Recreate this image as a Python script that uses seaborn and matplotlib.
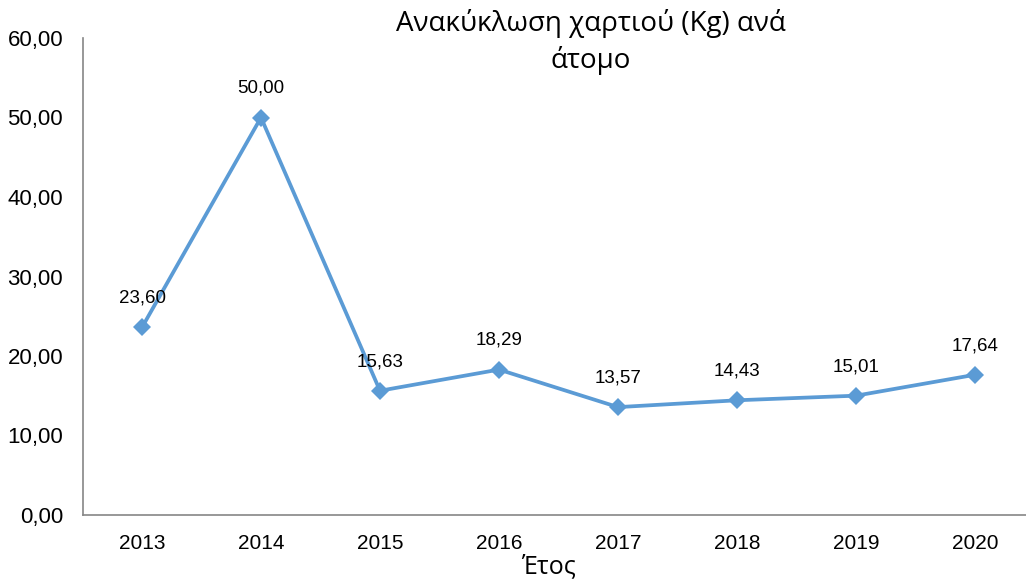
import matplotlib
matplotlib.use("Agg")
import matplotlib.pyplot as plt
import seaborn as sns
import pandas as pd
from matplotlib.ticker import FuncFormatter, FixedLocator

sns.set_style("white")
plt.rcParams['font.family'] = ['Liberation Sans', 'DejaVu Sans']
plt.rcParams['text.color'] = 'black'
plt.rcParams['xtick.color'] = 'black'
plt.rcParams['ytick.color'] = 'black'

# Δεδομένα
years = ["2013", "2014", "2015", "2016", "2017", "2018", "2019", "2020"]
kg_per_person = [23.60, 50.00, 15.63, 18.29, 13.57, 14.43, 15.01, 17.64]

title_text = "Ανακύκλωση χαρτιού (Kg) ανά\nάτομο"
xlabel_text = "Έτος"

df = pd.DataFrame({"year": years, "kg": kg_per_person})

line_color = "#5B9BD5"
axis_color = "#868686"

fig = plt.figure(figsize=(10.26, 5.8), dpi=100)
ax = fig.add_axes([82.5 / 1026, 65 / 580, 952 / 1026, 477 / 580])

sns.lineplot(data=df, x="year", y="kg", ax=ax, color=line_color, linewidth=2.7,
             marker="D", markersize=9.5, markeredgewidth=0, sort=False)

ax.set_xlim(-0.5, len(years) - 0.5)
ax.set_ylim(0, 60)
ax.set_yticks(range(0, 61, 10))
ax.yaxis.set_major_formatter(FuncFormatter(lambda v, p: f"{v:.2f}".replace(".", ",")))

# ετικέτες στο κέντρο, γραμμές ανάμεσα
ax.set_xticks(range(len(years)))
ax.set_xticklabels(years)
ax.xaxis.set_minor_locator(FixedLocator([i - 0.5 for i in range(len(years) + 1)]))
ax.tick_params(axis="x", which="major", length=0, pad=14, labelsize=15, labelcolor="black")
ax.tick_params(axis="x", which="minor", length=5, width=1, color=axis_color, direction="out")
ax.tick_params(axis="y", which="major", length=5, width=1, color=axis_color, direction="out",
               labelsize=16, pad=9, labelcolor="black")

for s in ["top", "right"]:
    ax.spines[s].set_visible(False)
for s in ["left", "bottom"]:
    ax.spines[s].set_color(axis_color)
    ax.spines[s].set_linewidth(1.2)

ax.set_xlabel("")
ax.set_ylabel("")
ax.grid(False)

for i, v in enumerate(kg_per_person):
    ax.annotate(f"{v:.2f}".replace(".", ","), (i, v), xytext=(0, 21), textcoords="offset points",
                ha="center", va="center", fontsize=13.5, color="black")

fig.text(591 / 1026, 1 - 42 / 580, title_text, ha="center", va="center", fontsize=20,
         family=["Open Sans", "DejaVu Sans"], linespacing=1.35, color="black")
fig.text(548 / 1026, 1 - 567 / 580, xlabel_text, ha="center", va="center", fontsize=18,
         family=["Open Sans", "DejaVu Sans"], color="black")

fig.savefig("out.png", dpi=100)
